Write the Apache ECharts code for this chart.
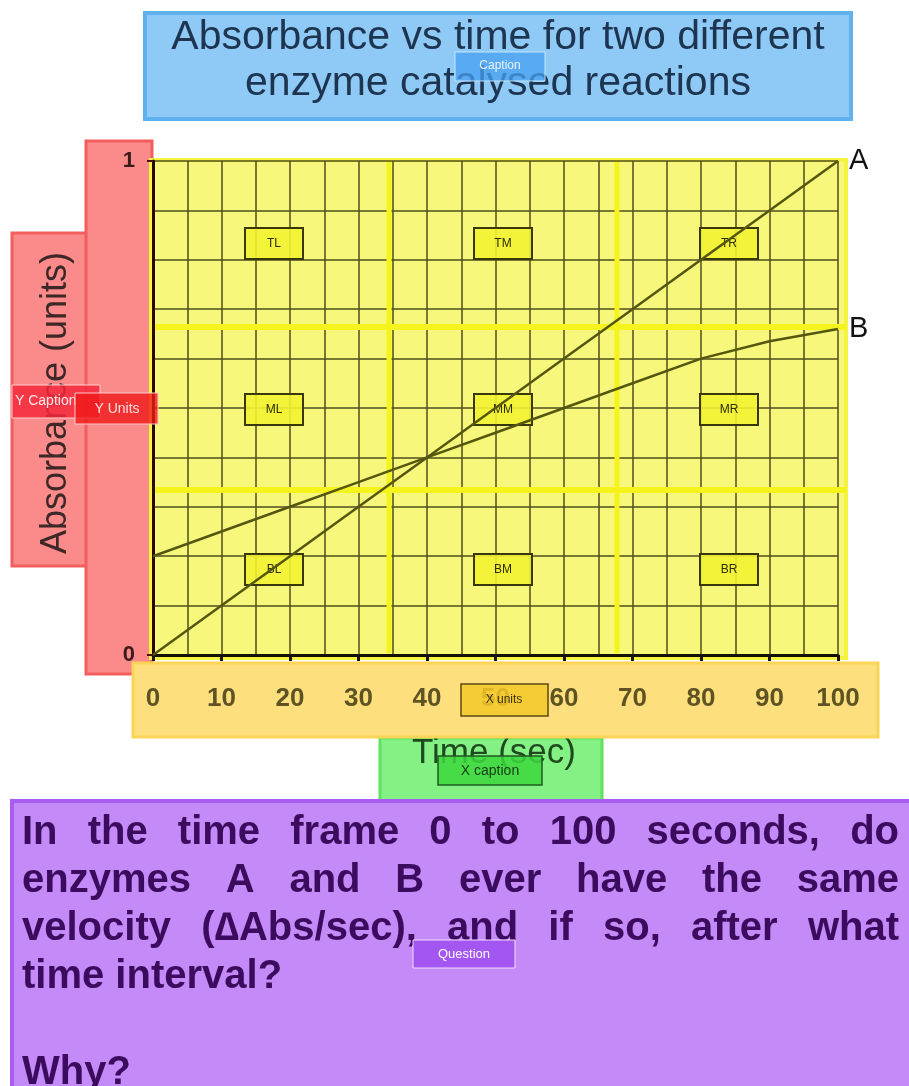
<!DOCTYPE html>
<html>
<head>
<meta charset="utf-8">
<script src="https://cdn.jsdelivr.net/npm/echarts@6/dist/echarts.min.js"></script>
<style>
html, body { margin: 0; padding: 0; background: #fff; }
#chart { width: 909px; height: 1086px; }
</style>
</head>
<body>
<div id="chart"></div>
<script>
// values
const times = [0, 10, 20, 30, 40, 50, 60, 70, 80, 90, 100]
const enzymeA = [0, 0.1, 0.2, 0.3, 0.4, 0.5, 0.6, 0.7, 0.8, 0.9, 1]
const enzymeB = [0.2, 0.25, 0.3, 0.35, 0.4, 0.45, 0.5, 0.55, 0.6, 0.635, 0.66]
const yTickLabels = ['0', '1']
const regionLabels = [['TL', 'TM', 'TR'], ['ML', 'MM', 'MR'], ['BL', 'BM', 'BR']]

const titleText = 'Absorbance vs time for two different\nenzyme catalysed reactions'
const yCaption = 'Absorbance (units)'
const xCaption = 'Time (sec)'
const questionLines = [
  'In the time frame 0 to 100 seconds, do',
  'enzymes A and B ever have the same',
  'velocity (\u2206Abs/sec), and if so, after what'
]
const questionTail = ['time interval?', '', 'Why?']

const FONT = '"Liberation Sans", Arial, sans-serif'

function box(x, y, w, h, fill, stroke, lw, z) {
  return { type: 'rect', z: z, silent: true, shape: { x: x, y: y, width: w, height: h }, style: { fill: fill, stroke: stroke, lineWidth: lw } }
}
function label(str, x, y, size, color, z, weight, align, lh) {
  return {
    type: 'text', z: z, silent: true, x: x, y: y,
    style: {
      text: str, fill: color, fontSize: size, fontWeight: weight || 'normal', fontFamily: FONT,
      lineHeight: lh || undefined,
      align: align || 'center', verticalAlign: 'middle', textAlign: align || 'center', textVerticalAlign: 'middle'
    }
  }
}

// justified question lines, laid out word by word
function justified(line, cy, left, right) {
  const ctx = document.createElement('canvas').getContext('2d')
  ctx.font = 'bold 40px ' + FONT
  const words = line.split(' ')
  const widths = words.map(w => ctx.measureText(w).width)
  const gap = (right - left - widths.reduce((a, b) => a + b, 0)) / (words.length - 1)
  let cx = left
  return words.map((w, i) => {
    const el = label(w, cx, cy, 40, '#3b0b5e', -4, 'bold', 'left')
    cx += widths[i] + gap
    return el
  })
}

let graphics = [
  // caption
  box(145, 13, 706, 106, '#8fcaf6', '#5fb2ee', 4, -10),
  label(titleText, 498, 61, 41, '#1d3550', -9, 'normal', 'center', 46),
  // y caption / units
  box(12, 233, 76, 333, '#fb8b8b', '#f25e5e', 3, -10),
  box(86, 141, 66, 533, '#fb8b8b', '#f25e5e', 3, -10),
  // plot region
  box(151, 160, 695, 498, '#f7f77c', '#f3f340', 4, -9),
  // x units / caption
  box(380, 738, 222, 63, '#84f184', '#5fe35f', 3, -10),
  label(xCaption, 494, 753, 35, '#1e4a1e', -8),
  box(133, 663, 745, 74, '#fde07d', '#fcd458', 3, -7),
  // question
  box(12, 801, 910, 300, '#c48af8', '#a95cf2', 4, -10),
  // quadrant dividers
  { type: 'line', z: 1, silent: true, shape: { x1: 155, y1: 327, x2: 846, y2: 327 }, style: { stroke: '#f4f41c', lineWidth: 6 } },
  { type: 'line', z: 1, silent: true, shape: { x1: 155, y1: 490, x2: 846, y2: 490 }, style: { stroke: '#f4f41c', lineWidth: 6 } },
  { type: 'line', z: 1, silent: true, shape: { x1: 389, y1: 162, x2: 389, y2: 653 }, style: { stroke: '#f4f41c', lineWidth: 5 } },
  { type: 'line', z: 1, silent: true, shape: { x1: 617, y1: 162, x2: 617, y2: 653 }, style: { stroke: '#f4f41c', lineWidth: 5 } },
  {
    type: 'text', z: -8, silent: true, x: 56, y: 403, rotation: Math.PI / 2,
    style: { text: yCaption, fill: '#3d2727', fontSize: 36, fontFamily: FONT, align: 'center', verticalAlign: 'middle', textAlign: 'center', textVerticalAlign: 'middle' }
  }
]

questionLines.forEach((line, i) => {
  graphics = graphics.concat(justified(line, 833 + i * 48, 22, 899))
})
questionTail.forEach((line, i) => {
  if (line) graphics.push(label(line, 22, 833 + (i + 3) * 48, 40, '#3b0b5e', -4, 'bold', 'left'))
})

// region tags
const colX = [274, 503, 729], rowY = [244, 410, 570]
regionLabels.forEach((row, r) => {
  row.forEach((name, c) => {
    graphics.push(box(colX[c] - 29, rowY[r] - 16, 58, 31, 'rgba(242,242,50,0.9)', '#38380a', 2, 1))
    graphics.push(label(name, colX[c], rowY[r], 12, '#2c2c05', 1))
  })
})

// tool tags on top
graphics.push(
  box(455, 52, 90, 29, 'rgba(70,160,240,0.75)', 'rgba(205,235,255,0.9)', 1, 20),
  label('Caption', 500, 66, 12, '#e8f4ff', 21),
  box(12, 385, 88, 33, 'rgba(244,40,60,0.85)', '#ffd0d0', 1, 20),
  label('Y Caption', 15, 401, 14, '#ffe8e8', 21, 'normal', 'left'),
  box(75, 393, 83, 31, 'rgba(240,25,25,0.8)', '#ffc8c8', 1, 22),
  label('Y Units', 117, 409, 14, '#ffdede', 23),
  box(461, 684, 87, 32, 'rgba(245,200,40,0.85)', '#5d4812', 1.5, 20),
  label('X units', 504, 700, 12, '#3a3010', 21),
  box(438, 756, 104, 29, 'rgba(60,215,60,0.85)', '#1f5a1f', 1.5, 20),
  label('X caption', 490, 771, 14, '#173a17', 21),
  box(413, 940, 102, 28, 'rgba(160,80,240,0.9)', '#f4dcff', 1, 20),
  label('Question', 464, 954, 13, '#ffffff', 21)
)

const gridColor = '#4f4f1c'
const lineColor = '#55570f'

let option = {
  animation: false,
  grid: { left: 153, top: 161, width: 685, height: 494 },
  xAxis: {
    type: 'value',
    min: 0,
    max: 100,
    interval: 10,
    axisLine: { show: true, onZero: false, lineStyle: { color: '#151100', width: 3 } },
    axisTick: { show: true, length: 6, lineStyle: { color: '#1a1400', width: 3 } },
    axisLabel: { fontSize: 26, fontWeight: 'bold', color: '#5f5323', fontFamily: FONT, margin: 31 },
    splitLine: { show: true, lineStyle: { color: gridColor, width: 1.5 } },
    minorTick: { show: false, splitNumber: 2 },
    minorSplitLine: { show: true, lineStyle: { color: gridColor, width: 1.5 } }
  },
  yAxis: {
    type: 'value',
    min: 0,
    max: 1,
    interval: 1,
    axisLine: { show: true, onZero: false, lineStyle: { color: '#2b0606', width: 3 } },
    axisTick: { show: true, length: 6, lineStyle: { color: '#4a0c0c', width: 2 } },
    axisLabel: {
      fontSize: 22, fontWeight: 'bold', color: '#3a1a1a', fontFamily: FONT, margin: 18,
      formatter: v => yTickLabels[Math.round(v)]
    },
    splitLine: { show: true, lineStyle: { color: gridColor, width: 1.5 } },
    minorTick: { show: false, splitNumber: 10 },
    minorSplitLine: { show: true, lineStyle: { color: gridColor, width: 1.5 } }
  },
  series: [
    {
      name: 'A',
      type: 'line',
      symbol: 'none',
      lineStyle: { color: lineColor, width: 2.5 },
      endLabel: { show: true, formatter: '{a}', fontSize: 29, color: '#111', fontFamily: FONT, distance: 11 },
      data: times.map((t, i) => [t, enzymeA[i]])
    },
    {
      name: 'B',
      type: 'line',
      symbol: 'none',
      lineStyle: { color: lineColor, width: 2.5 },
      endLabel: { show: true, formatter: '{a}', fontSize: 29, color: '#111', fontFamily: FONT, distance: 11 },
      data: times.map((t, i) => [t, enzymeB[i]])
    }
  ],
  graphic: { elements: graphics }
}

let myChart = echarts.init(document.getElementById('chart'))
myChart.setOption(option)
</script>
</body>
</html>
